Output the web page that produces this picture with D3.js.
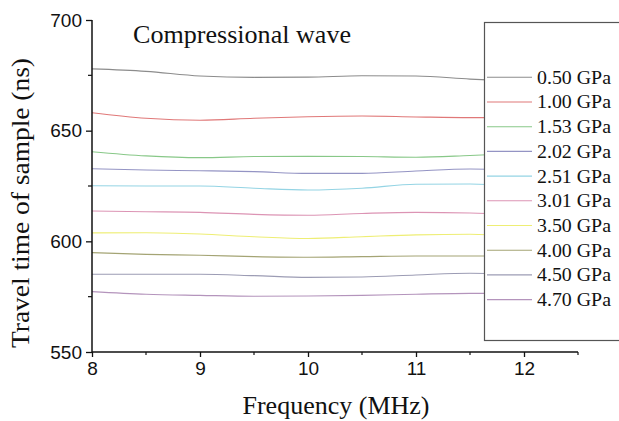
<!DOCTYPE html>
<html>
<head>
<meta charset="utf-8">
<script src="https://cdn.jsdelivr.net/npm/d3@7"></script>
<style>
  html, body { margin: 0; padding: 0; background: #fff; }
  svg { display: block; }
</style>
</head>
<body>
<svg id="chart" width="619" height="421"></svg>
<script>
// ---- data ----
const frequency = [8, 8.5, 9, 9.5, 10, 10.5, 11, 11.5, 12];
const pressures = ["0.50 GPa", "1.00 GPa", "1.53 GPa", "2.02 GPa", "2.51 GPa",
                   "3.01 GPa", "3.50 GPa", "4.00 GPa", "4.50 GPa", "4.70 GPa"];
const s050 = [677.9, 676.8, 674.7, 674.1, 674.2, 674.8, 674.7, 673.3, 672.2];
const s100 = [658.1, 655.6, 654.7, 655.6, 656.3, 656.6, 656.2, 655.9, 655.9];
const s153 = [640.5, 638.6, 637.8, 638.3, 638.4, 638.3, 638.0, 638.8, 639.8];
const s202 = [632.8, 632.2, 631.9, 631.5, 630.7, 630.7, 631.8, 632.7, 632.0];
const s251 = [625.1, 625.0, 625.0, 624.0, 623.2, 624.0, 625.8, 625.9, 624.8];
const s301 = [613.7, 613.4, 613.1, 612.2, 611.8, 612.6, 613.1, 612.8, 611.7];
const s350 = [603.8, 603.9, 603.3, 602.1, 601.3, 602.1, 602.9, 603.2, 602.0];
const s400 = [594.9, 594.1, 593.7, 593.1, 592.8, 593.1, 593.4, 593.4, 593.4];
const s450 = [585.1, 585.1, 585.1, 584.5, 583.7, 583.9, 584.8, 585.6, 584.8];
const s470 = [577.3, 576.1, 575.6, 575.2, 575.3, 575.6, 576.1, 576.5, 576.5];
const seriesValues = [s050, s100, s153, s202, s251, s301, s350, s400, s450, s470];
const xTicks = [8, 9, 10, 11, 12];
const xMinorTicks = [8.5, 9.5, 10.5, 11.5, 12.5];
const yTicks = [550, 600, 650, 700];
const yMinorTicks = [575, 625, 675];
const colors = ["#8c8c8c", "#e07878", "#88c888", "#9494c4", "#94d4e4",
                "#dc94b4", "#eeee74", "#a4a474", "#9c9cb4", "#b494bc"];
const titleText = "Compressional wave";
const xLabel = "Frequency (MHz)";
const yLabel = "Travel time of sample (ns)";

// ---- layout ----
const svg = d3.select("#chart");
const serif = "Liberation Serif, Times New Roman, serif";
const sans = "Liberation Sans, Arial, sans-serif";

const x = d3.scaleLinear().domain([8, 12.5]).range([92, 578]);
const y = d3.scaleLinear().domain([550, 700]).range([352, 20]);

// lines
const line = d3.line()
  .x((d, i) => x(frequency[i]))
  .y(d => y(d))
  .curve(d3.curveMonotoneX);

svg.append("g").selectAll("path")
  .data(seriesValues)
  .join("path")
  .attr("d", d => line(d))
  .attr("fill", "none")
  .attr("stroke", (d, i) => colors[i])
  .attr("stroke-width", 1.1);

// axes
const axisColor = "#111";
const yAxis = svg.append("g").attr("transform", `translate(${x(8)},0)`)
  .call(d3.axisLeft(y).tickValues(yTicks).tickFormat(d3.format("d")).tickSize(6).tickPadding(4));
yAxis.select(".domain").attr("d", `M0,${y(700)}V${y(550)}`).attr("stroke", axisColor).attr("stroke-width", 1.5);
yAxis.selectAll(".tick line").attr("stroke", axisColor).attr("stroke-width", 1.3);
yAxis.selectAll("text").attr("font-family", sans).attr("font-size", 19).attr("fill", "#111");
yAxis.append("g").selectAll("line").data(yMinorTicks).join("line")
  .attr("x1", -4).attr("x2", 0).attr("y1", d => y(d)).attr("y2", d => y(d))
  .attr("stroke", axisColor).attr("stroke-width", 1.2);

const xAxis = svg.append("g").attr("transform", `translate(0,${y(550)})`)
  .call(d3.axisBottom(x).tickValues(xTicks).tickFormat(d3.format("d")).tickSize(5).tickPadding(5));
xAxis.select(".domain").attr("d", `M${x(8)},0H${x(12.5)}`).attr("stroke", axisColor).attr("stroke-width", 1.5);
xAxis.selectAll(".tick line").attr("stroke", axisColor).attr("stroke-width", 1.3);
xAxis.selectAll("text").attr("font-family", sans).attr("font-size", 19).attr("fill", "#111");
xAxis.append("g").selectAll("line").data(xMinorTicks).join("line")
  .attr("x1", d => x(d)).attr("x2", d => x(d)).attr("y1", 0).attr("y2", 3)
  .attr("stroke", axisColor).attr("stroke-width", 1.2);

// legend
const lg = svg.append("g");
lg.append("rect")
  .attr("x", 484.5).attr("y", 22.5).attr("width", 160).attr("height", 318)
  .attr("fill", "#fff").attr("stroke", "#555").attr("stroke-width", 1.2);
const items = lg.selectAll("g.item").data(pressures).join("g")
  .attr("class", "item")
  .attr("transform", (d, i) => `translate(0,${77.3 + i * 24.7})`);
items.append("line")
  .attr("x1", 487).attr("x2", 532).attr("y1", 0).attr("y2", 0)
  .attr("stroke", (d, i) => colors[i]).attr("stroke-width", 1.1);
items.append("text")
  .attr("x", 537).attr("y", 0).attr("dy", "0.36em")
  .attr("font-family", serif).attr("font-size", 18)
  .attr("textLength", 74).attr("lengthAdjust", "spacingAndGlyphs")
  .attr("fill", "#111")
  .text(d => d);

// title
svg.append("text")
  .attr("x", 133).attr("y", 43)
  .attr("font-family", serif).attr("font-size", 25)
  .attr("textLength", 218).attr("lengthAdjust", "spacingAndGlyphs")
  .attr("fill", "#111")
  .text(titleText);

// axis labels
svg.append("text")
  .attr("x", 336).attr("y", 414)
  .attr("text-anchor", "middle")
  .attr("font-family", serif).attr("font-size", 25)
  .attr("textLength", 187).attr("lengthAdjust", "spacingAndGlyphs")
  .attr("fill", "#111")
  .text(xLabel);

svg.append("text")
  .attr("transform", "translate(28.5,203) rotate(-90)")
  .attr("text-anchor", "middle")
  .attr("font-family", serif).attr("font-size", 25)
  .attr("textLength", 290).attr("lengthAdjust", "spacingAndGlyphs")
  .attr("fill", "#111")
  .text(yLabel);
</script>
</body>
</html>
